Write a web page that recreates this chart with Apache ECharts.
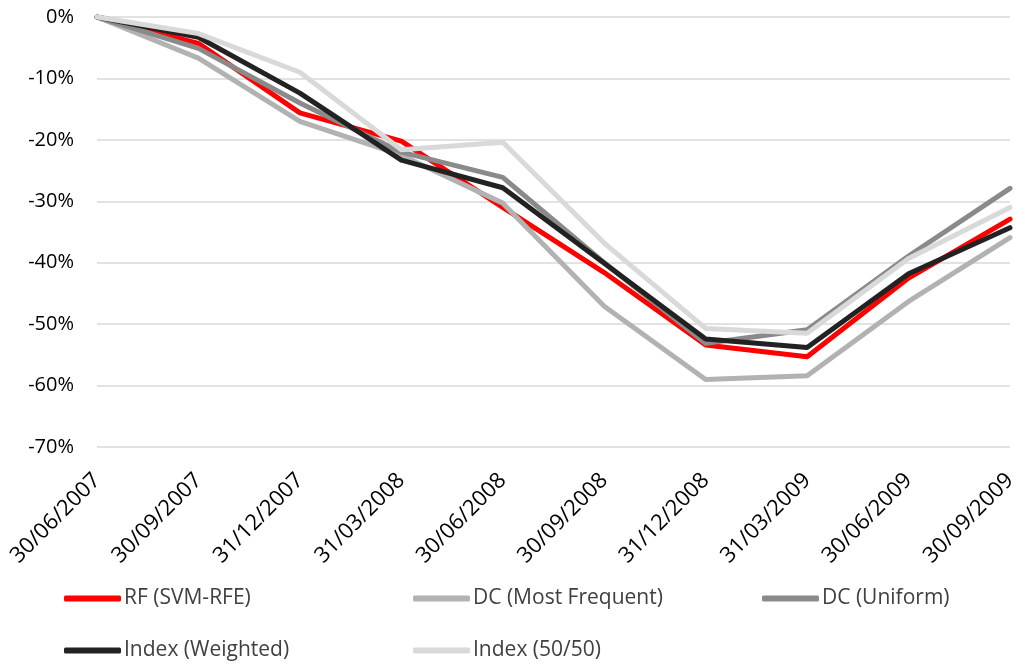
<!DOCTYPE html>
<html>
<head>
<meta charset="utf-8">
<script src="https://cdn.jsdelivr.net/npm/echarts@6/dist/echarts.min.js"></script>
<style>
  html, body { margin: 0; padding: 0; background: #fff; }
  #chart { width: 1025px; height: 666px; }
</style>
</head>
<body>
<div id="chart"></div>
<script>
// Quarter-end dates on the category axis
const dates = ['30/06/2007', '30/09/2007', '31/12/2007', '31/03/2008', '30/06/2008',
               '30/09/2008', '31/12/2008', '31/03/2009', '30/06/2009', '30/09/2009'];

// Cumulative return (%) per strategy
const rfSvmRfe      = [0, -4.3, -15.6, -20.2, -31.0, -41.6, -53.4, -55.3, -42.5, -32.9];
const dcMostFreq    = [0, -6.7, -17.0, -22.5, -30.3, -47.1, -59.0, -58.4, -46.3, -35.9];
const dcUniform     = [0, -5.1, -14.0, -22.0, -26.1, -40.0, -53.1, -50.9, -38.9, -27.9];
const indexWeighted = [0, -3.3, -12.4, -23.3, -27.8, -40.1, -52.4, -53.8, -41.8, -34.3];
const index5050     = [0, -2.7,  -9.0, -21.6, -20.4, -36.8, -50.7, -51.5, -39.3, -31.0];

// Y-axis ticks
const yTicks = [0, -10, -20, -30, -40, -50, -60, -70];

const FONT = '"Open Sans", "Liberation Sans", sans-serif';

const seriesDefs = [
  { name: 'RF (SVM-RFE)',       data: rfSvmRfe,      color: '#ff0000' },
  { name: 'DC (Most Frequent)', data: dcMostFreq,    color: '#b2b2b2' },
  { name: 'DC (Uniform)',       data: dcUniform,     color: '#8a8a8a' },
  { name: 'Index (Weighted)',   data: indexWeighted, color: '#222222' },
  { name: 'Index (50/50)',      data: index5050,     color: '#d9d9d9' }
];

// Legend placed in a 3-column grid, one component per entry
const legendPos = [
  { left: 64,  top: 588 },
  { left: 413, top: 588 },
  { left: 762, top: 588 },
  { left: 64,  top: 640 },
  { left: 413, top: 640 }
];

const chart = echarts.init(document.getElementById('chart'), null, { renderer: 'canvas' });

chart.setOption({
  animation: false,
  backgroundColor: '#ffffff',
  grid: { left: 97, right: 15, top: 17, bottom: 219, containLabel: false },
  xAxis: {
    type: 'category',
    data: dates,
    boundaryGap: false,
    axisLine: { show: false },
    axisTick: { show: false },
    axisLabel: {
      rotate: 45,
      margin: 30,
      interval: 0,
      color: '#000',
      fontFamily: FONT,
      fontSize: 22
    },
    splitLine: { show: false }
  },
  yAxis: {
    type: 'value',
    min: yTicks[yTicks.length - 1],
    max: yTicks[0],
    interval: 10,
    axisLine: { show: false },
    axisTick: { show: false },
    axisLabel: {
      margin: 23,
      color: '#000',
      fontFamily: FONT,
      fontSize: 20,
      formatter: v => v + '%'
    },
    splitLine: { show: true, lineStyle: { color: '#d9d9d9', width: 1.5 } }
  },
  legend: seriesDefs.map((s, i) => ({
    data: [s.name],
    left: legendPos[i].left,
    top: legendPos[i].top,
    padding: 0,
    icon: 'roundRect',
    itemWidth: 57,
    itemHeight: 6,
    itemGap: 0,
    textStyle: { color: '#404040', fontFamily: FONT, fontSize: 21, padding: [0, 0, 0, -2] }
  })),
  series: seriesDefs.map((s, i) => ({
    name: s.name,
    type: 'line',
    data: s.data,
    symbol: 'none',
    z: 2 + i,
    color: s.color,
    lineStyle: { color: s.color, width: 5, cap: 'round', join: 'round' }
  }))
});
</script>
</body>
</html>
